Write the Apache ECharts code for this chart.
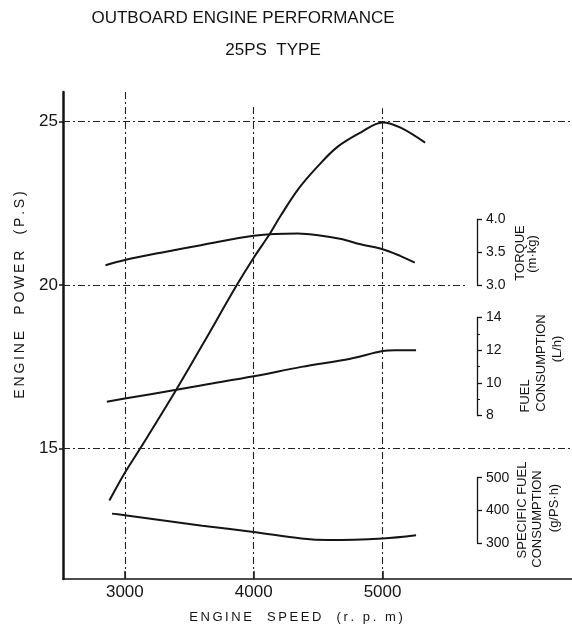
<!DOCTYPE html>
<html><head><meta charset="utf-8">
<script src="https://cdn.jsdelivr.net/npm/echarts@6/dist/echarts.min.js"></script>
<style>html,body{margin:0;padding:0;background:#fff}#c{width:572px;height:628px}</style>
</head><body><div id="c"></div>
<script>
// ---- data ----
const titleText = 'OUTBOARD ENGINE PERFORMANCE';
const subtitleText = '25PS  TYPE';
const xTicks = [3000, 4000, 5000];
const yTicks = [15, 20, 25];

const rpmPower = [2880, 3000, 3120, 3400, 3600, 3870, 4000, 4120, 4210, 4350, 4500, 4650, 4830, 5000, 5140, 5330];
const power    = [13.4, 14.25, 15.0, 16.8, 18.15, 20.0, 20.83, 21.53, 22.12, 22.95, 23.64, 24.22, 24.66, 24.97, 24.81, 24.35];

const rpmTorque = [2850, 3000, 3300, 3600, 4000, 4340, 4500, 4680, 4830, 5000, 5140, 5250];
const torque    = [3.30, 3.38, 3.50, 3.61, 3.75, 3.785, 3.76, 3.70, 3.62, 3.545, 3.44, 3.34];

const rpmFuel = [2860, 3000, 3400, 3600, 4000, 4370, 4750, 5000, 5100, 5260];
const fuel    = [8.84, 9.04, 9.58, 9.86, 10.4, 10.98, 11.48, 11.95, 12.0, 12.0];

const rpmSfc = [2900, 3000, 3600, 4000, 4370, 4580, 5000, 5260];
const sfc    = [390, 385, 353, 334, 314, 309, 314, 324];

// secondary scales: [min,max] of scale and the engine-power values they sit against
const torqueRange = [3.0, 4.0], torqueOnPower = [20, 22], torqueInterval = 0.5;
const fuelRange = [8, 14], fuelOnPower = [16, 19], fuelInterval = 2;
const sfcRange = [300, 500], sfcOnPower = [12.1, 14.1], sfcInterval = 100;

// axis extents
const X_MIN = 2520, X_MAX = 6470;
const P_MIN = 11, P_MAX = 25.9;

// dash-dot reference lines: [value, end]
const hGrid = [[25, X_MAX], [20, 5660], [15, X_MAX]];
const vGrid = [[3000, P_MAX], [4000, 25.45], [5000, 25.4]];

// ---- helpers ----
const FONT = '"Liberation Sans", Arial, sans-serif';
const INK = '#141414';
function zip(a, b) { return a.map((v, i) => [v, b[i]]); }
function mapRange(r, onP) {
  const k = (r[1] - r[0]) / (onP[1] - onP[0]);
  return [r[0] + (P_MIN - onP[0]) * k, r[0] + (P_MAX - onP[0]) * k];
}
function spaced(s) { return s.split('').join('\u2009'); }

const chart = echarts.init(document.getElementById('c'), null, {renderer: 'canvas'});

const tR = mapRange(torqueRange, torqueOnPower);
const fR = mapRange(fuelRange, fuelOnPower);
const sR = mapRange(sfcRange, sfcOnPower);

const dashType = [7, 3, 2, 3];
const gridLines = hGrid.map(h => [{coord: [X_MIN, h[0]]}, {coord: [h[1], h[0]]}])
  .concat(vGrid.map(v => [{coord: [v[0], P_MIN]}, {coord: [v[0], v[1]]}]));

const lineStyle = {color: INK, width: 2};
function curve(data, yIdx, extra) {
  return Object.assign({
    type: 'line', data: data, xAxisIndex: 0, yAxisIndex: yIdx, smooth: 0.35,
    symbol: 'none', lineStyle: lineStyle, silent: true, animation: false
  }, extra || {});
}

const mainGrid = {left: 63, top: 92, right: 0, bottom: 49, containLabel: false};
const mainX = {
  type: 'value', gridIndex: 0, min: X_MIN, max: X_MAX,
  axisLine: {onZero: false, lineStyle: {color: INK, width: 1.5}},
  axisTick: {show: true, inside: true, length: 8, customValues: xTicks, lineStyle: {color: INK, width: 1.5}},
  axisLabel: {customValues: xTicks, fontSize: 17, color: INK, fontFamily: FONT, margin: 5,
    formatter: v => String(v)},
  splitLine: {show: false}
};
const mainY = [
  {type: 'value', gridIndex: 0, min: P_MIN, max: P_MAX,
   axisLine: {show: true, onZero: false, lineStyle: {color: INK, width: 2.5}},
   axisTick: {show: true, length: 4, customValues: yTicks, lineStyle: {color: INK, width: 1.5}},
   axisLabel: {customValues: yTicks, fontSize: 17, color: INK, fontFamily: FONT, margin: 5},
   splitLine: {show: false}},
  {type: 'value', gridIndex: 0, min: tR[0], max: tR[1], show: false},
  {type: 'value', gridIndex: 0, min: fR[0], max: fR[1], show: false},
  {type: 'value', gridIndex: 0, min: sR[0], max: sR[1], show: false}
];

const series = [
  curve(zip(rpmPower, power), 0, {
    markLine: {silent: true, symbol: 'none', label: {show: false}, animation: false,
      lineStyle: {color: '#222', width: 1.1, type: dashType}, data: gridLines}
  }),
  curve(zip(rpmTorque, torque), 1),
  curve(zip(rpmFuel, fuel), 2),
  curve(zip(rpmSfc, sfc), 3)
];

function textEl(text, x, y, size, rot) {
  return {type: 'text', x: x, y: y, rotation: rot || 0, silent: true,
    style: {text: text, font: size + 'px ' + FONT, fill: INK, align: 'center', verticalAlign: 'middle',
      textAlign: 'center', textVerticalAlign: 'middle'}};
}
const R = Math.PI / 2;
const graphics = [
  textEl(titleText, 243, 18, 17),
  textEl(subtitleText, 273, 50, 17),
  textEl(spaced('ENGINE  POWER  (P.S)'), 20, 295, 14, R),
  textEl(spaced('ENGINE  SPEED  (r. p. m)'), 296, 617, 13),
  textEl('TORQUE', 520, 253, 13, R),
  textEl('(m\u00b7kg)', 532, 254, 13, R),
  textEl('FUEL', 525, 396, 13, R),
  textEl('CONSUMPTION', 541, 363, 13, R),
  textEl('(L/h)', 557, 349, 13, R),
  textEl('SPECIFIC FUEL', 522, 510, 13, R),
  textEl('CONSUMPTION', 537, 519, 13, R),
  textEl('(g/PS\u00b7h)', 554, 508, 13, R)
];

const base = {
  backgroundColor: '#fff', animation: false,
  grid: [mainGrid], xAxis: [mainX], yAxis: mainY, series: series, graphic: graphics
};
chart.setOption(base);

// bracket scales placed against the engine-power axis
const brackets = [
  {axis: 1, range: torqueRange, interval: torqueInterval, minor: false, digits: 1},
  {axis: 2, range: fuelRange, interval: fuelInterval, minor: true, digits: 0},
  {axis: 3, range: sfcRange, interval: sfcInterval, minor: false, digits: 0}
];
const grids = [mainGrid], xs = [mainX], ys = mainY.slice();
brackets.forEach((b, i) => {
  const yTop = chart.convertToPixel({yAxisIndex: b.axis}, b.range[1]);
  const yBot = chart.convertToPixel({yAxisIndex: b.axis}, b.range[0]);
  const gi = i + 1;
  grids.push({left: 477, width: 20, top: yTop, height: yBot - yTop});
  xs.push({type: 'value', gridIndex: gi, min: 0, max: 1, show: false});
  ys.push({type: 'value', gridIndex: gi, position: 'left', min: b.range[0], max: b.range[1], interval: b.interval,
    axisLine: {show: true, onZero: false, lineStyle: {color: INK, width: 1.3}},
    axisTick: {show: true, inside: true, length: 5, lineStyle: {color: INK, width: 1.3}},
    minorTick: {show: b.minor, splitNumber: 2, length: 3, lineStyle: {color: INK}},
    axisLabel: {inside: true, margin: 9, fontSize: 14, color: INK, fontFamily: FONT,
      formatter: v => Number(v).toFixed(b.digits)},
    splitLine: {show: false}});
});
chart.setOption(Object.assign({}, base, {grid: grids, xAxis: xs, yAxis: ys}), true);
</script></body></html>
